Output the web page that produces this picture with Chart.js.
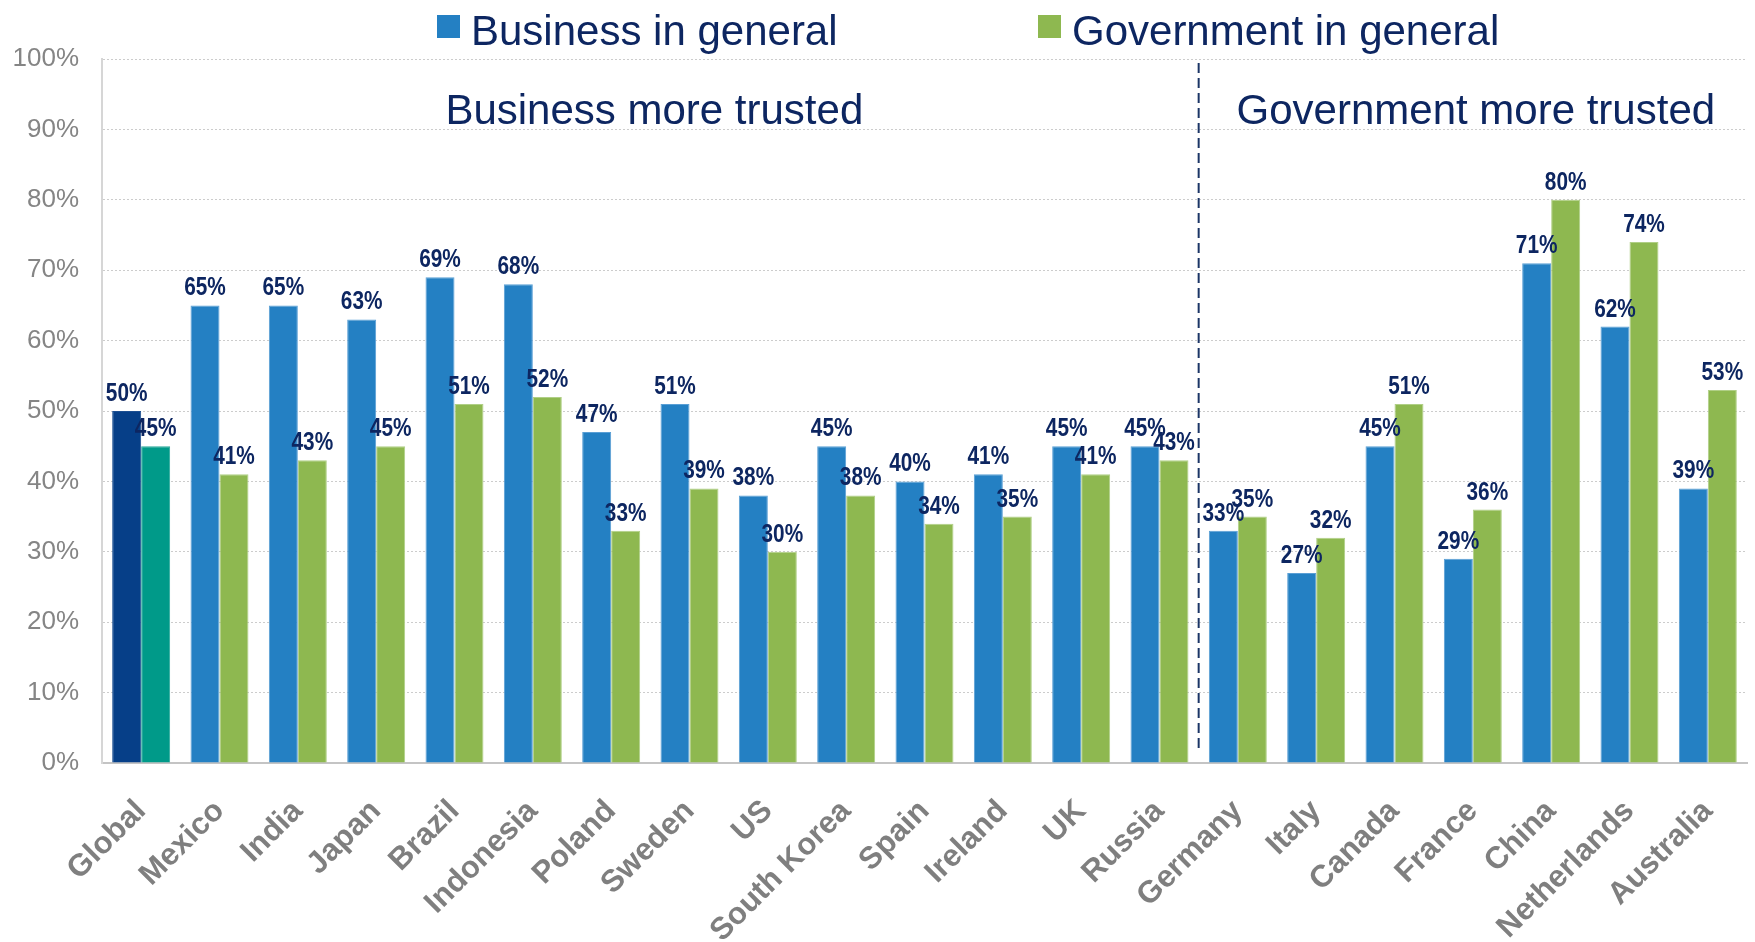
<!DOCTYPE html>
<html>
<head>
<meta charset="utf-8">
<title>Trust in business vs government</title>
<script src="https://cdn.jsdelivr.net/npm/chart.js@4.4.0/dist/chart.umd.min.js"></script>
<style>
    html, body { margin: 0; padding: 0; background: #ffffff; }
    #wrap { width: 1755px; height: 942px; }
</style>
</head>
<body>
<div id="wrap"><canvas id="trust-chart" width="1755" height="942"></canvas></div>
<script>
// Chart data
const countries = ['Global', 'Mexico', 'India', 'Japan', 'Brazil', 'Indonesia', 'Poland', 'Sweden', 'US',
    'South Korea', 'Spain', 'Ireland', 'UK', 'Russia', 'Germany', 'Italy', 'Canada', 'France', 'China',
    'Netherlands', 'Australia'];
const businessTrust = [50, 65, 65, 63, 69, 68, 47, 51, 38, 45, 40, 41, 45, 45, 33, 27, 45, 29, 71, 62, 39];
const governmentTrust = [45, 41, 43, 45, 51, 52, 33, 39, 30, 38, 34, 35, 41, 43, 35, 32, 51, 36, 80, 74, 53];
const percentTicks = [0, 10, 20, 30, 40, 50, 60, 70, 80, 90, 100];
const seriesNames = ['Business in general', 'Government in general'];
const regionTitles = ['Business more trusted', 'Government more trusted'];
const lastBusinessCountry = 'Russia';

// Colours
const NAVY = '#0d2661';
const GREY = '#7f7f7f';
const blueFill = countries.map((c, i) => i === 0 ? '#063f88' : '#2480c3');
const blueEdge = countries.map((c, i) => i === 0 ? '#1c4f92' : '#5a9fd5');
const greenFill = countries.map((c, i) => i === 0 ? '#009a89' : '#8eb850');
const greenEdge = countries.map((c, i) => i === 0 ? '#2aa99a' : '#b0cf86');

// Value labels above each bar (bold, squeezed horizontally like a narrow face)
const valueLabels = {
    id: 'valueLabels',
    afterDatasetsDraw(chart) {
        const ctx = chart.ctx;
        chart.data.datasets.forEach((ds, di) => {
            chart.getDatasetMeta(di).data.forEach((bar, i) => {
                ctx.save();
                ctx.fillStyle = NAVY;
                ctx.font = 'bold 26px "Liberation Sans", Arial, sans-serif';
                ctx.textAlign = 'center';
                ctx.textBaseline = 'alphabetic';
                ctx.translate(bar.x, bar.y - 10);
                ctx.scale(0.8, 1);
                ctx.fillText(ds.data[i] + '%', 0, 0);
                ctx.restore();
            });
        });
    }
};

// Dashed divider between the two groups and their titles
const trustRegions = {
    id: 'trustRegions',
    afterDraw(chart) {
        const ctx = chart.ctx;
        const x = chart.scales.x;
        const y = chart.scales.y;
        const area = chart.chartArea;
        const split = countries.indexOf(lastBusinessCountry);
        const divider = (x.getPixelForValue(split) + x.getPixelForValue(split + 1)) / 2;

        ctx.save();
        ctx.strokeStyle = '#1b3566';
        ctx.lineWidth = 2;
        ctx.setLineDash([10, 5]);
        ctx.beginPath();
        ctx.moveTo(divider, area.top + 4);
        ctx.lineTo(divider, area.bottom - 10);
        ctx.stroke();

        ctx.setLineDash([]);
        ctx.fillStyle = NAVY;
        ctx.font = '42px "Liberation Sans", Arial, sans-serif';
        ctx.textAlign = 'center';
        ctx.textBaseline = 'alphabetic';
        const titleY = y.getPixelForValue(90.8);
        ctx.fillText(regionTitles[0], (area.left + divider) / 2 + 4, titleY);
        ctx.fillText(regionTitles[1], (divider + area.right) / 2 + 3, titleY);
        ctx.restore();
    }
};

// Legend row along the top
const topLegend = {
    id: 'topLegend',
    afterDraw(chart, args, opts) {
        const ctx = chart.ctx;
        ctx.save();
        ctx.font = '42px "Liberation Sans", Arial, sans-serif';
        ctx.textBaseline = 'alphabetic';
        ctx.textAlign = 'left';
        chart.data.datasets.forEach((ds, i) => {
            const left = opts.starts[i];
            ctx.fillStyle = ds.legendColor;
            ctx.fillRect(left, opts.boxTop, opts.boxSize, opts.boxSize);
            ctx.fillStyle = NAVY;
            ctx.fillText(ds.label, left + opts.boxSize + 11, opts.baseline);
        });
        ctx.restore();
    }
};

const chart = new Chart(document.getElementById('trust-chart'), {
    type: 'bar',
    data: {
        labels: countries,
        datasets: [
            {
                label: seriesNames[0],
                data: businessTrust,
                backgroundColor: blueFill,
                borderColor: blueEdge,
                borderWidth: 1,
                borderSkipped: 'bottom',
                legendColor: '#2480c3'
            },
            {
                label: seriesNames[1],
                data: governmentTrust,
                backgroundColor: greenFill,
                borderColor: greenEdge,
                borderWidth: 1,
                borderSkipped: 'bottom',
                legendColor: '#8eb850'
            }
        ]
    },
    options: {
        responsive: false,
        animation: false,
        events: [],
        categoryPercentage: 0.74,
        barPercentage: 1.0,
        layout: { padding: { top: 59, right: 8, left: 0, bottom: 0 } },
        plugins: {
            legend: { display: false },
            tooltip: { enabled: false },
            topLegend: { starts: [437, 1038], boxTop: 15, boxSize: 23, baseline: 45 }
        },
        scales: {
            x: {
                grid: { display: false, drawTicks: false },
                border: { color: '#c4c4c4', width: 2 },
                ticks: {
                    color: GREY,
                    autoSkip: false,
                    minRotation: 45,
                    maxRotation: 45,
                    padding: 30,
                    font: { family: '"Liberation Sans", Arial, sans-serif', size: 31, weight: 'bold' }
                },
                afterFit(scale) {
                    scale.height = 179;
                    scale.paddingLeft = 0;
                    scale.paddingRight = 0;
                }
            },
            y: {
                min: 0,
                max: 100,
                afterBuildTicks(scale) {
                    scale.ticks = percentTicks.map(v => ({ value: v }));
                },
                grid: { color: '#cccccc', lineWidth: 1, drawTicks: false },
                border: { color: '#d6d6d6', width: 2, dash: [2, 2] },
                ticks: {
                    color: '#858585',
                    padding: 23,
                    callback: v => v + '%',
                    font: { family: '"Liberation Sans", Arial, sans-serif', size: 26 }
                },
                afterFit(scale) { scale.width = 102; }
            }
        }
    },
    plugins: [valueLabels, trustRegions, topLegend]
});
</script>
</body>
</html>
